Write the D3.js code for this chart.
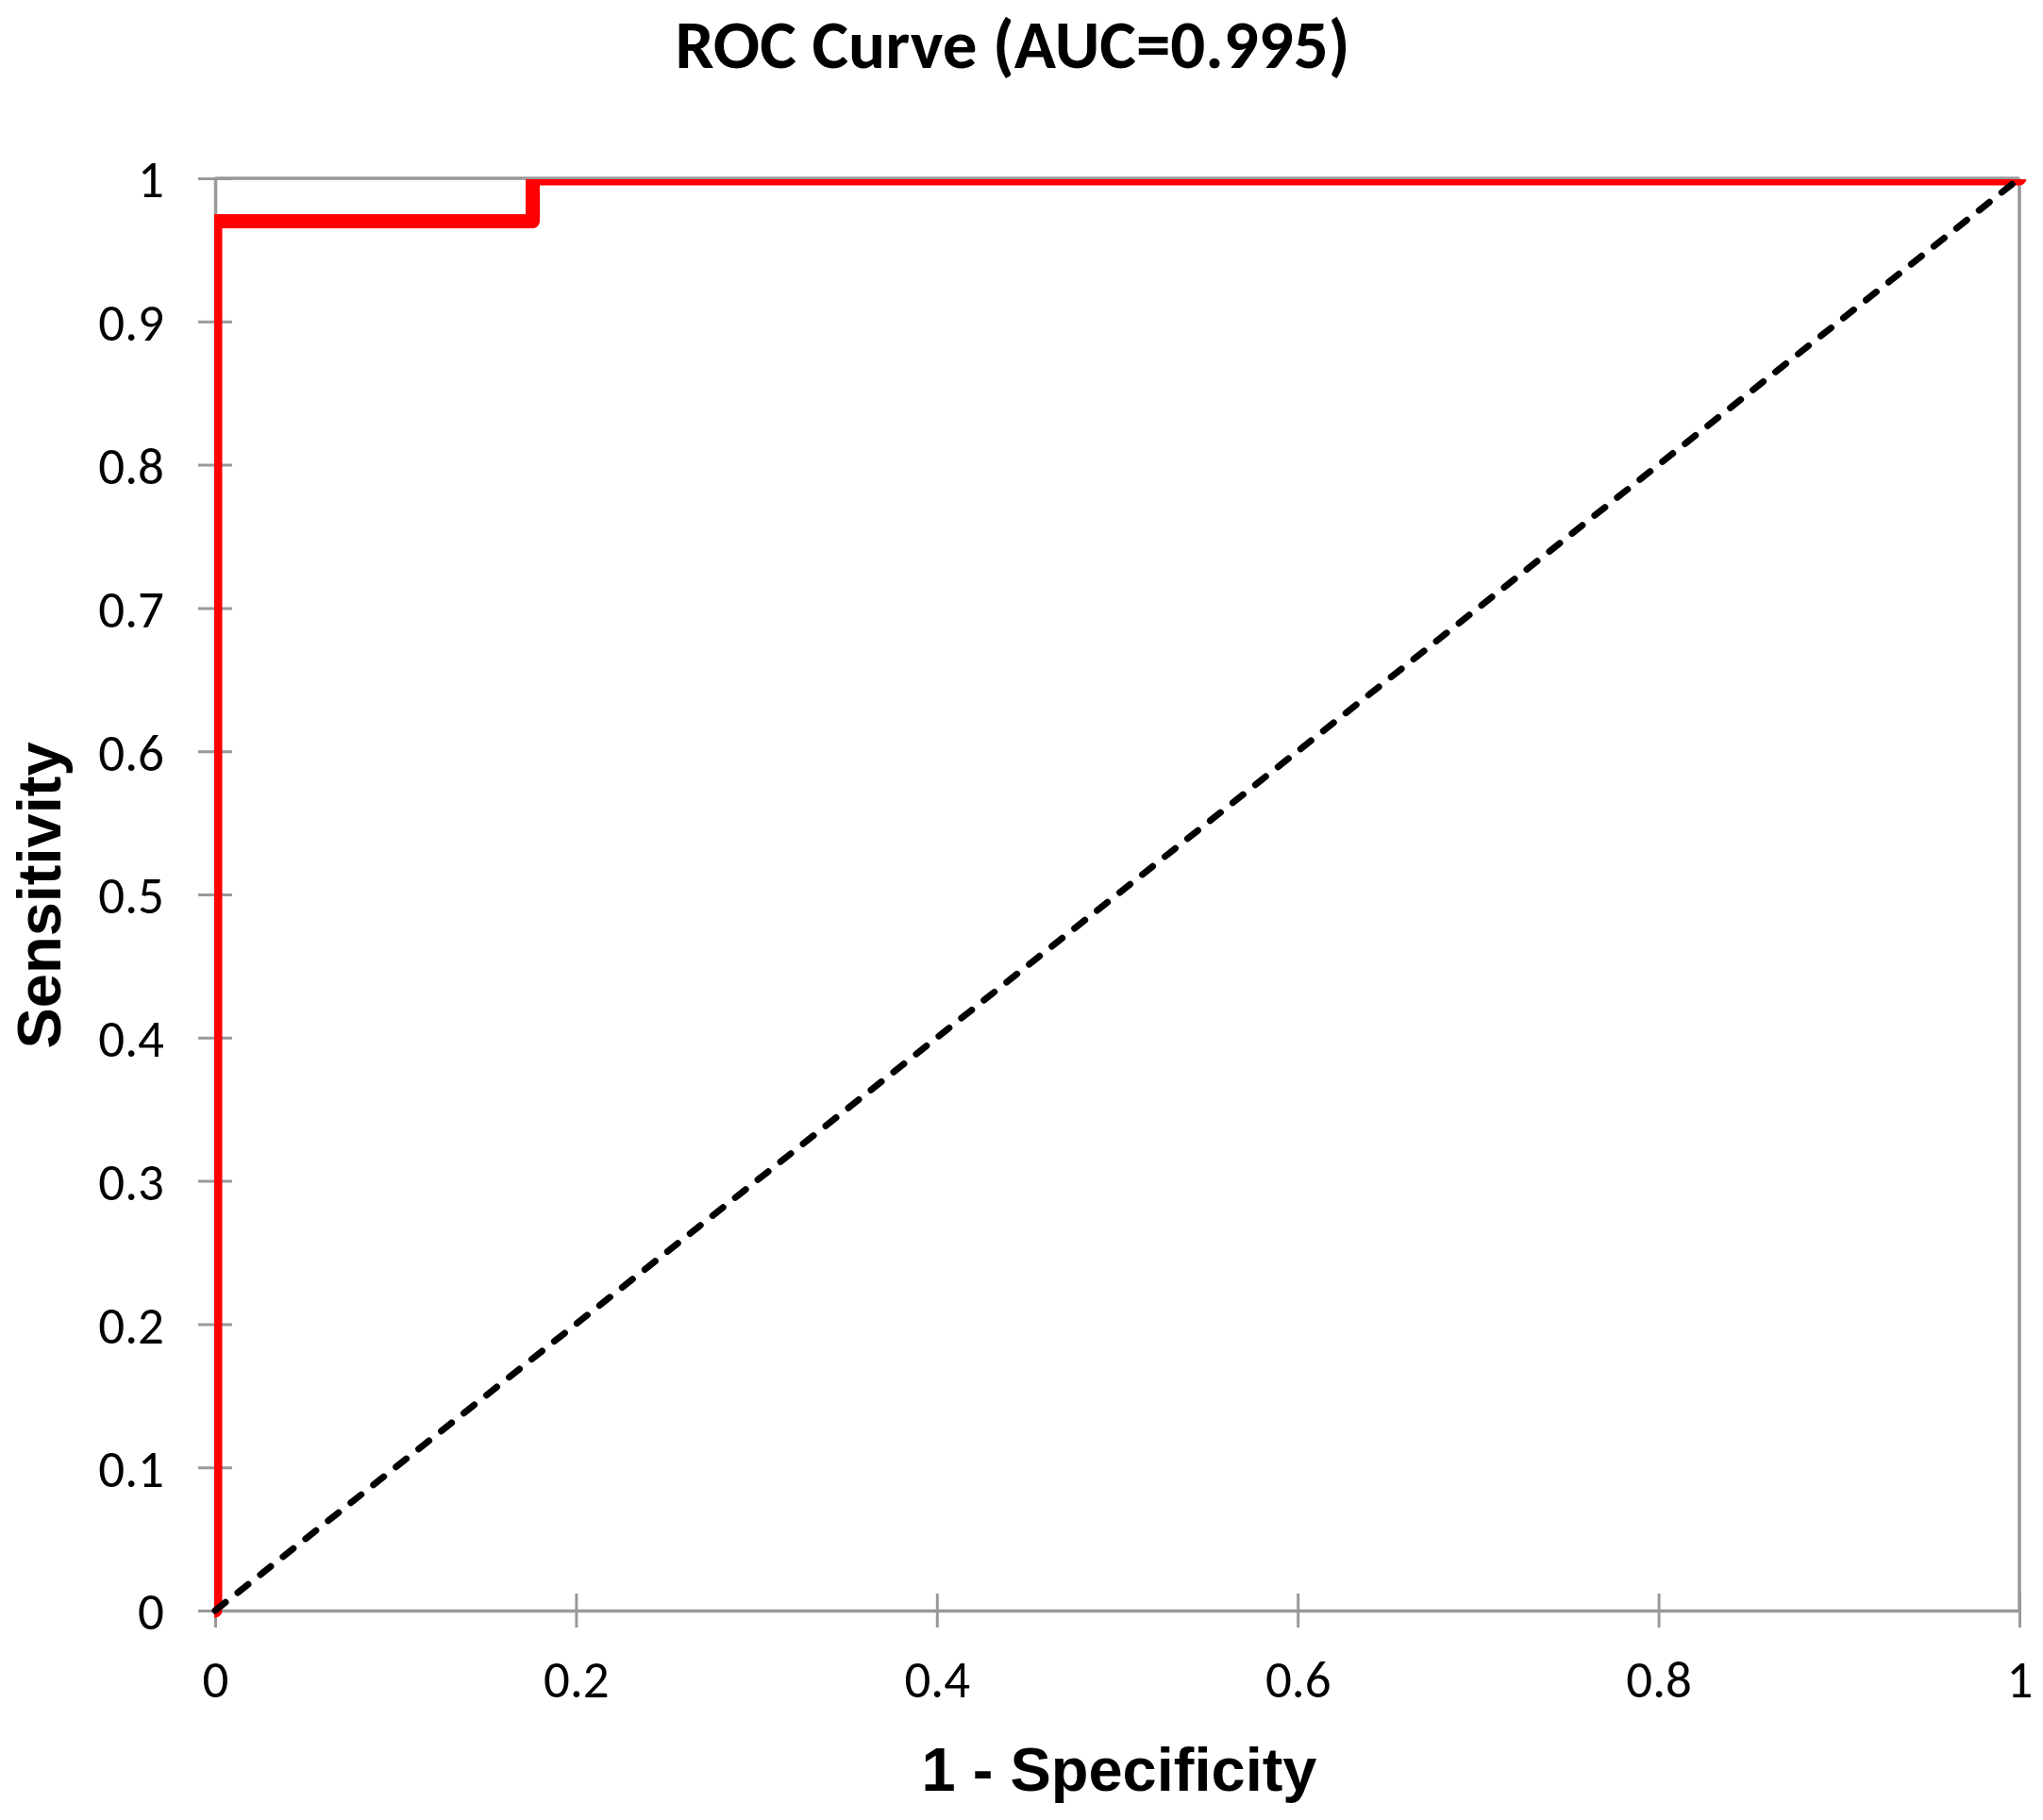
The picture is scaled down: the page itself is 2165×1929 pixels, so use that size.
<!DOCTYPE html>
<html>
<head>
<meta charset="utf-8">
<script src="https://cdn.jsdelivr.net/npm/d3@7/dist/d3.min.js"></script>
<style>
  html, body { margin: 0; padding: 0; background: #ffffff; }
  svg { display: block; }
</style>
</head>
<body>
<script>
// ---- data ----
const titleText = "ROC Curve (AUC=0.995)";
const xLabelText = "1 - Specificity";
const yLabelText = "Sensitivity";
const rocFpr = [0, 0, 0.176, 0.176, 1];
const rocTpr = [0, 0.97, 0.97, 1, 1];
const refFpr = [0, 1];
const refTpr = [0, 1];
const xTickValues = [0, 0.2, 0.4, 0.6, 0.8, 1];
const xTickLabels = ["0", "0.2", "0.4", "0.6", "0.8", "1"];
const yTickValues = [0, 0.1, 0.2, 0.3, 0.4, 0.5, 0.6, 0.7, 0.8, 0.9, 1];
const yTickLabels = ["0", "0.1", "0.2", "0.3", "0.4", "0.5", "0.6", "0.7", "0.8", "0.9", "1"];

// ---- layout ----
const W = 2165, H = 1929;
const plot = { left: 228, right: 2140, top: 189, bottom: 1707 };
const axisGray = "#999999";
const tickFont = "Carlito, Lato, 'Open Sans', sans-serif";

const svg = d3.select("body").append("svg")
  .attr("width", W).attr("height", H)
  .attr("viewBox", `0 0 ${W} ${H}`)
  .attr("font-family", tickFont);

svg.append("rect").attr("width", W).attr("height", H).attr("fill", "#ffffff");

const x = d3.scaleLinear().domain([0, 1]).range([plot.left, plot.right]);
const y = d3.scaleLinear().domain([0, 1]).range([plot.bottom, plot.top]);

// frame (top and right)
svg.append("line")
  .attr("x1", x(0)).attr("x2", x(1)).attr("y1", y(1)).attr("y2", y(1))
  .attr("stroke", axisGray).attr("stroke-width", 3.5);
svg.append("line")
  .attr("x1", x(1)).attr("x2", x(1)).attr("y1", y(0)).attr("y2", y(1))
  .attr("stroke", axisGray).attr("stroke-width", 3.5);

// x axis
const xAxis = d3.axisBottom(x)
  .tickValues(xTickValues)
  .tickFormat((d, i) => xTickLabels[i])
  .tickSizeInner(18).tickSizeOuter(0).tickPadding(0);
const gx = svg.append("g").attr("transform", `translate(0,${plot.bottom})`).call(xAxis);
gx.attr("font-family", tickFont);
gx.select(".domain").attr("stroke", axisGray).attr("stroke-width", 3.5);
gx.selectAll(".tick line").attr("stroke", axisGray).attr("stroke-width", 3)
  .attr("y1", -18).attr("y2", 18);
gx.selectAll(".tick text")
  .attr("y", 92).attr("dy", null)
  .attr("fill", "#000").attr("font-family", tickFont).attr("font-size", 55)
  .attr("text-anchor", "middle");

// y axis
const yAxis = d3.axisLeft(y)
  .tickValues(yTickValues)
  .tickFormat((d, i) => yTickLabels[i])
  .tickSizeInner(18).tickSizeOuter(0).tickPadding(0);
const gy = svg.append("g").attr("transform", `translate(${plot.left},0)`).call(yAxis);
gy.attr("font-family", tickFont);
gy.select(".domain").attr("stroke", axisGray).attr("stroke-width", 3.5);
gy.selectAll(".tick line").attr("stroke", axisGray).attr("stroke-width", 3)
  .attr("x1", -18).attr("x2", 18);
gy.selectAll(".tick text")
  .attr("x", -54).attr("dy", "0.36em")
  .attr("fill", "#000").attr("font-family", tickFont).attr("font-size", 55)
  .attr("text-anchor", "end");

// clip for ROC curve (Excel-like clipping at left/top of plot area)
svg.append("clipPath").attr("id", "plotclip")
  .append("rect").attr("x", plot.left - 1).attr("y", plot.top + 1)
  .attr("width", W - plot.left).attr("height", H - plot.top);

const line = d3.line().x(d => x(d[0])).y(d => y(d[1]));

const rocData = rocFpr.map((v, i) => [v, rocTpr[i]]);
svg.append("path")
  .datum(rocData)
  .attr("d", line)
  .attr("fill", "none")
  .attr("stroke", "#ff0000")
  .attr("stroke-width", 15)
  .attr("stroke-linejoin", "round")
  .attr("stroke-linecap", "round")
  .attr("clip-path", "url(#plotclip)");

const refData = refFpr.map((v, i) => [v, refTpr[i]]);
svg.append("path")
  .datum(refData)
  .attr("d", line)
  .attr("fill", "none")
  .attr("stroke", "#000000")
  .attr("stroke-width", 7)
  .attr("stroke-linecap", "round")
  .attr("stroke-dasharray", "14,16.6");

// title
svg.append("text")
  .attr("x", 1073).attr("y", 72)
  .attr("text-anchor", "middle")
  .attr("font-family", "Carlito, Lato, 'Open Sans', sans-serif")
  .attr("font-weight", "bold")
  .attr("font-size", 73)
  .attr("fill", "#000")
  .text(titleText);

// x label
svg.append("text")
  .attr("x", 1186).attr("y", 1898)
  .attr("text-anchor", "middle")
  .attr("font-family", "'Liberation Sans', Arial, sans-serif")
  .attr("font-weight", "bold")
  .attr("font-size", 65)
  .attr("fill", "#000")
  .text(xLabelText);

// y label
svg.append("text")
  .attr("transform", `translate(64,949) rotate(-90)`)
  .attr("text-anchor", "middle")
  .attr("font-family", "'Liberation Sans', Arial, sans-serif")
  .attr("font-weight", "bold")
  .attr("font-size", 65)
  .attr("fill", "#000")
  .text(yLabelText);
</script>
</body>
</html>
